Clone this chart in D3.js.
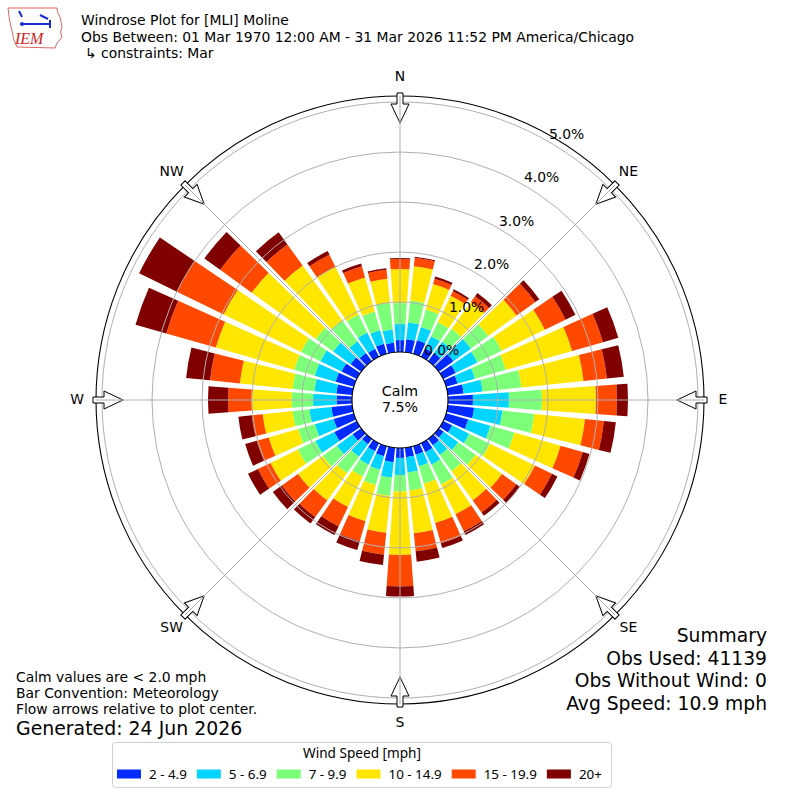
<!DOCTYPE html>
<meta charset="utf-8">
<style>
body { margin: 0; background: #fff; }
svg { font-family: "DejaVu Sans", sans-serif; }
.grid { stroke: #b0b0b0; stroke-width: 1; fill: none; }
.legend text { font-family: "Noto Sans", sans-serif; }
</style>
<svg width="800" height="800"></svg>
<script src="https://d3js.org/d3.v7.min.js"></script>
<script>
// wind directions (degrees, meteorological: where the wind blows from)
var directions = [0, 10, 20, 30, 40, 50, 60, 70, 80, 90, 100, 110,
                  120, 130, 140, 150, 160, 170, 180, 190, 200, 210, 220, 230,
                  240, 250, 260, 270, 280, 290, 300, 310, 320, 330, 340, 350];

var speedBins = ["2 - 4.9", "5 - 6.9", "7 - 9.9", "10 - 14.9", "15 - 19.9", "20+"];
var binColors = ["#002aff", "#00d4ff", "#7cff79", "#ffe600", "#ff4800", "#800000"];

// percent of observations per direction, one list per speed bin
var spd2 = [0.24, 0.26, 0.28, 0.19, 0.20, 0.36, 0.28, 0.24, 0.32, 0.50, 0.53, 0.46,
            0.20, 0.12, 0.16, 0.20, 0.18, 0.19, 0.20, 0.29, 0.21, 0.18, 0.13, 0.21,
            0.50, 0.42, 0.42, 0.31, 0.32, 0.38, 0.34, 0.26, 0.20, 0.18, 0.21, 0.19];
var spd5 = [0.32, 0.34, 0.28, 0.27, 0.28, 0.43, 0.48, 0.36, 0.38, 0.72, 0.57, 0.46,
            0.38, 0.36, 0.24, 0.28, 0.24, 0.31, 0.34, 0.31, 0.28, 0.30, 0.31, 0.39,
            0.42, 0.39, 0.44, 0.47, 0.44, 0.43, 0.47, 0.43, 0.29, 0.36, 0.28, 0.27];
var spd7 = [0.42, 0.44, 0.36, 0.31, 0.32, 0.43, 0.54, 0.64, 0.78, 0.66, 0.64, 0.50,
            0.46, 0.43, 0.40, 0.44, 0.36, 0.36, 0.33, 0.37, 0.32, 0.26, 0.41, 0.35,
            0.39, 0.35, 0.34, 0.43, 0.44, 0.43, 0.43, 0.43, 0.52, 0.40, 0.39, 0.54];
var spd10 = [0.68, 0.69, 0.53, 0.59, 0.66, 0.70, 0.96, 1.38, 1.25, 1.08, 1.02, 0.96,
             1.00, 0.65, 0.72, 0.66, 0.82, 0.86, 1.27, 0.74, 0.75, 0.68, 0.67, 0.61,
             0.61, 0.61, 0.60, 0.80, 1.06, 1.63, 1.72, 1.58, 1.35, 1.06, 0.71, 0.48];
var spd15 = [0.20, 0.17, 0.11, 0.10, 0.14, 0.46, 0.46, 0.64, 0.47, 0.42, 0.38, 0.46,
             0.38, 0.35, 0.30, 0.38, 0.42, 0.36, 0.63, 0.44, 0.42, 0.43, 0.41, 0.40,
             0.28, 0.25, 0.22, 0.47, 0.60, 1.03, 1.04, 0.78, 0.52, 0.27, 0.23, 0.18];
var spd20 = [0.02, 0.02, 0.05, 0.04, 0.08, 0.10, 0.22, 0.32, 0.34, 0.22, 0.24, 0.14,
             0.12, 0.09, 0.08, 0.08, 0.10, 0.21, 0.20, 0.21, 0.18, 0.19, 0.16, 0.22,
             0.22, 0.24, 0.27, 0.40, 0.48, 0.64, 0.84, 0.39, 0.30, 0.08, 0.06, 0.03];
var series = [spd2, spd5, spd7, spd10, spd15, spd20];

var ringTicks = [0, 1, 2, 3, 4, 5];
var compass = [["N", 0], ["NE", 45], ["E", 90], ["SE", 135],
               ["S", 180], ["SW", 225], ["W", 270], ["NW", 315]];

var titleLines = ["Windrose Plot for [MLI] Moline",
                  "Obs Between: 01 Mar 1970 12:00 AM - 31 Mar 2026 11:52 PM America/Chicago",
                  "\u21b3 constraints: Mar"];
var noteLines = ["Calm values are < 2.0 mph", "Bar Convention: Meteorology",
                 "Flow arrows relative to plot center."];
var summaryLines = ["Summary", "Obs Used: 41139", "Obs Without Wind: 0", "Avg Speed: 10.9 mph"];
var calmPct = "7.5%";

var svg = d3.select("svg"),
    cx = 400, cy = 400;

var r = d3.scaleLinear().domain([0, 5]).range([48, 298]);
var outerR = r(5.12);
var rad = function(deg) { return deg * Math.PI / 180; };

var plot = svg.append("g").attr("transform", "translate(" + cx + "," + cy + ")");

//build stacked segments
var segments = [];
directions.forEach(function(d, i) {
  var acc = 0;
  series.forEach(function(s, k) {
    segments.push({dir: d, bin: k, y0: acc, y1: acc + s[i]});
    acc += s[i];
  });
});

var arc = d3.arc()
    .innerRadius(function(d) { return r(d.y0); })
    .outerRadius(function(d) { return r(d.y1); })
    .startAngle(function(d) { return rad(d.dir - 4.1); })
    .endAngle(function(d) { return rad(d.dir + 4.1); });

plot.append("g")
  .selectAll("path")
  .data(segments)
  .enter().append("path")
    .attr("d", arc)
    .attr("fill", function(d) { return binColors[d.bin]; });

//grid rings
plot.append("g")
  .selectAll("circle")
  .data(ringTicks.slice(1))
  .enter().append("circle")
    .attr("class", "grid")
    .attr("r", function(d) { return r(d); });

//outer frame
plot.append("circle")
    .attr("r", outerR)
    .attr("fill", "none")
    .attr("stroke", "#000")
    .attr("stroke-width", 1.1);

//flow arrows
var arrowPath = "M-3,-307L3,-307L3,-296L9,-296L0,-277L-9,-296L-3,-296Z";
plot.append("g")
  .selectAll("path")
  .data(compass)
  .enter().append("path")
    .attr("d", arrowPath)
    .attr("transform", function(d) { return "rotate(" + d[1] + ")"; })
    .attr("fill", "#fff")
    .attr("stroke", "#000")
    .attr("stroke-width", 1);

//spokes
plot.append("g")
  .selectAll("line")
  .data(compass)
  .enter().append("line")
    .attr("class", "grid")
    .attr("x1", function(d) { return r(0) * Math.sin(rad(d[1])); })
    .attr("y1", function(d) { return -r(0) * Math.cos(rad(d[1])); })
    .attr("x2", function(d) { return outerR * Math.sin(rad(d[1])); })
    .attr("y2", function(d) { return -outerR * Math.cos(rad(d[1])); });

//compass labels
plot.append("g")
  .selectAll("text")
  .data(compass)
  .enter().append("text")
    .attr("x", function(d) { return 323 * Math.sin(rad(d[1])); })
    .attr("y", function(d) { return -323 * Math.cos(rad(d[1])) - 1; })
    .attr("text-anchor", "middle")
    .attr("dy", "0.36em")
    .attr("font-size", "13.9px")
    .text(function(d) { return d[0]; });

//ring labels
plot.append("g")
  .selectAll("text")
  .data(ringTicks)
  .enter().append("text")
    .attr("x", function(d) { return r(d) * Math.sin(rad(30)); })
    .attr("y", function(d) { return -r(d) * Math.cos(rad(30)) - 3; })
    .attr("font-size", "13.9px")
    .text(function(d) { return d.toFixed(1) + "%"; });

//calm circle
plot.append("circle")
    .attr("r", r(0))
    .attr("fill", "#fff")
    .attr("stroke", "#000")
    .attr("stroke-width", 1.1);
plot.append("text")
    .attr("text-anchor", "middle")
    .attr("y", -4.5)
    .attr("font-size", "14.2px")
    .text("Calm");
plot.append("text")
    .attr("text-anchor", "middle")
    .attr("y", 11.7)
    .attr("font-size", "14.2px")
    .text(calmPct);

//title
svg.append("g")
  .selectAll("text")
  .data(titleLines)
  .enter().append("text")
    .attr("x", function(d, i) { return i == 2 ? 85 : 81; })
    .attr("y", function(d, i) { return 25 + i * 16.7; })
    .attr("font-size", "13.9px")
    .text(function(d) { return d; });

//logo (rough IEM mark)
var logo = svg.append("g");
logo.append("path")
    .attr("d", "M8,8L57,8Q57,13 60,17L62,27Q59,32 62,37L57,43L55,48L17,47Q13,40 12,31Q9,20 8,8Z")
    .attr("fill", "none")
    .attr("stroke", "#d04040")
    .attr("stroke-width", 0.8);
logo.append("path")
    .attr("d", "M19,11L22,17M21,24L50,24M40,15L48,19M50,20L50,28")
    .attr("stroke", "#1a2bd0")
    .attr("stroke-width", 2)
    .attr("fill", "none");
logo.append("circle").attr("cx", 22).attr("cy", 24).attr("r", 2).attr("fill", "#1a2bd0");
logo.append("text")
    .attr("x", 15).attr("y", 44)
    .attr("font-family", "Liberation Serif, serif")
    .attr("font-style", "italic")
    .attr("font-size", "16px")
    .attr("fill", "#d02020")
    .text("IEM");

//notes bottom-left
svg.append("g")
  .selectAll("text")
  .data(noteLines)
  .enter().append("text")
    .attr("x", 16)
    .attr("y", function(d, i) { return 682 + i * 16.2; })
    .attr("font-size", "13.9px")
    .text(function(d) { return d; });
svg.append("text")
    .attr("x", 16).attr("y", 735)
    .attr("font-size", "18.9px")
    .text("Generated: 24 Jun 2026");

//summary bottom-right
svg.append("g")
  .selectAll("text")
  .data(summaryLines)
  .enter().append("text")
    .attr("x", 767)
    .attr("y", function(d, i) { return 642 + i * 22.7; })
    .attr("text-anchor", "end")
    .attr("font-size", "18.7px")
    .text(function(d) { return d; });

//legend
var legend = svg.append("g").attr("class", "legend");
legend.append("rect")
    .attr("x", 112.5).attr("y", 742.5)
    .attr("width", 499).attr("height", 45)
    .attr("rx", 3)
    .attr("fill", "#fff")
    .attr("stroke", "#d0d0d0");
legend.append("text")
    .attr("x", 362).attr("y", 758)
    .attr("text-anchor", "middle")
    .attr("font-size", "13.6px")
    .text("Wind Speed [mph]");
var lx = 117;
speedBins.forEach(function(label, k) {
  legend.append("rect")
      .attr("x", lx).attr("y", 769.5)
      .attr("width", 24).attr("height", 9)
      .attr("fill", binColors[k]);
  var t = legend.append("text")
      .attr("x", lx + 32).attr("y", 779)
      .attr("font-size", "13.4px")
      .text(label);
  lx = lx + 32 + t.node().getComputedTextLength() + 10;
});
</script>
